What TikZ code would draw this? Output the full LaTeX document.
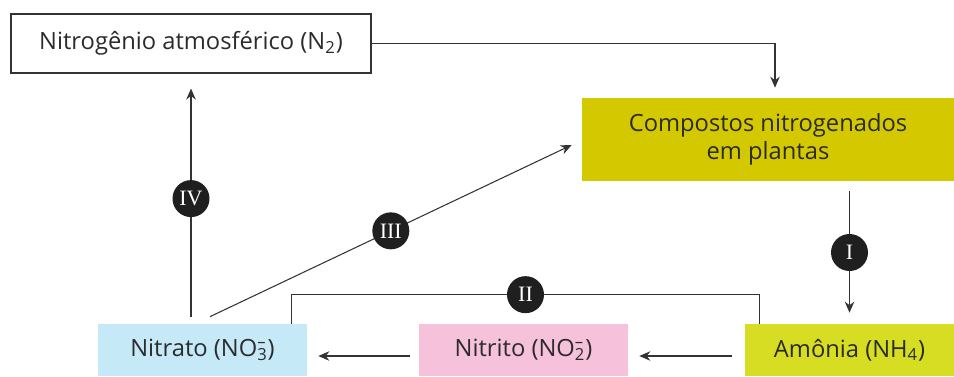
\documentclass[tikz,border=0pt]{standalone}
\usepackage{fontspec}
\setmainfont{Open Sans}
\newfontfamily\numfont{Liberation Serif}
\usetikzlibrary{arrows.meta,positioning}

\definecolor{textgray}{HTML}{2B2B2B}
\definecolor{linegray}{HTML}{333333}
\definecolor{plantas}{HTML}{D4C900}
\definecolor{amonia}{HTML}{D6DD22}
\definecolor{nitrato}{HTML}{C6E9F8}
\definecolor{nitrito}{HTML}{F6C2DB}
\newcommand{\ionsub}[2]{\rlap{\textsuperscript{#2}}\textsubscript{#1}}

\begin{document}
\begin{tikzpicture}[node distance=6.42cm,on grid,
    every node/.style={text=textgray,font=\fontsize{13.5}{16}\selectfont},
    box/.style={minimum width=4.18cm,minimum height=1.04cm,inner sep=0pt},
    badge/.style={circle,fill=black!88,text=white,minimum size=0.74cm,inner sep=0pt,
                  font=\numfont\fontsize{12.5}{14}\selectfont},
    link/.style={draw=linegray,line width=0.6pt},
    flow/.style={link,-{Stealth[length=2.2mm,width=1.9mm]}}]
  \useasboundingbox (0,0) rectangle (19.08,-7.52);

  \node[link,minimum width=7.2cm,minimum height=1.18cm] (n2) at (3.82,-0.87) {Nitrogênio atmosférico (N\textsubscript{2})};
  \node[fill=plantas,minimum width=7.44cm,minimum height=1.66cm,align=center] (cp) at (15.36,-2.79) {Compostos nitrogenados\\em plantas};
  \node[box,fill=nitrato] (nt) at (4.05,-7) {Nitrato (NO\ionsub{3}{--})};
  \node[box,fill=nitrito] (ni) [right=of nt] {Nitrito (NO\ionsub{2}{--})};
  \node[box,fill=amonia]  (am) [right=6.52cm of ni] {Amônia (NH\textsubscript{4})};

  \draw[flow,shorten >=0.2cm] (n2.east) -| ([xshift=0.14cm]cp.north);
  \draw[flow,shorten <=0.2cm,shorten >=0.22cm] (am.north |- cp.south) -- node[badge] {I} (am.north);
  \draw[flow,shorten <=0.26cm,shorten >=0.22cm] ([yshift=-0.12cm]am.west) -- ([yshift=-0.12cm]ni.east);
  \draw[flow,shorten <=0.18cm,shorten >=0.22cm] ([yshift=-0.12cm]ni.west) -- ([yshift=-0.12cm]nt.east);
  \draw[link] ([xshift=0.3cm]am.north west) |- node[badge,pos=0.75] {II} ([xshift=-0.32cm,yshift=0.58cm]nt.north east)
              -- ([xshift=-0.32cm]nt.north east);
  \draw[flow] ([xshift=0.15cm,yshift=0.14cm]nt.north) -- node[badge] {III} ([xshift=-0.2cm,yshift=-0.11cm]cp.west);
  \draw[flow,shorten <=0.14cm,shorten >=0.3cm] (n2.south |- nt.north) -- node[badge] {IV} (n2.south);
\end{tikzpicture}
\end{document}
